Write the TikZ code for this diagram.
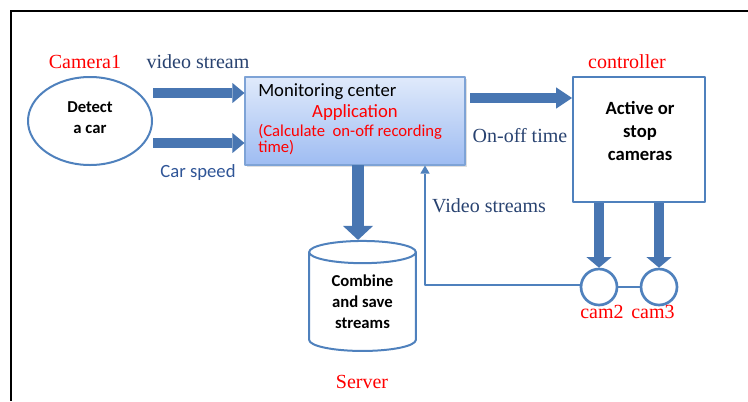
\documentclass[tikz,border=0pt]{standalone}
\usepackage{fontspec}
\setmainfont{Liberation Serif}
\newfontfamily\calibri{Carlito}
\usetikzlibrary{arrows.meta,shapes.geometric,shadows}
\definecolor{edgeblue}{RGB}{79,129,189}
\definecolor{arrowblue}{RGB}{72,118,178}
\definecolor{labelblue}{RGB}{40,66,112}
\definecolor{speedblue}{RGB}{47,85,151}
\definecolor{montop}{RGB}{224,234,251}
\definecolor{monbot}{RGB}{158,188,242}
\definecolor{monedge}{RGB}{126,163,214}

\begin{document}
\begin{tikzpicture}[x=0.75pt, y=-0.75pt, line join=round,
  redlab/.style={text=red, font=\fontsize{15}{17}\selectfont, inner sep=0pt},
  bluelab/.style={text=labelblue, font=\fontsize{15}{17}\selectfont, inner sep=0pt},
  boldtxt/.style={font=\calibri\bfseries\fontsize{12.5}{15.75}\selectfont, align=center, inner sep=0pt},
  blockarrow/.style={draw=arrowblue, line width=7.5pt, -{Triangle[length=9pt,width=15pt,line width=0pt]}},
  camline/.style={draw=edgeblue, line width=2.2pt}]
  % ========================================================
  % 0. FRAME AND CANVAS
  % ========================================================
  \useasboundingbox (0,0) rectangle (748,401);
  \draw[line width=2.2pt, black] (10,11) -- (748,11);
  \draw[line width=2.2pt, black] (11,11) -- (11,401);

  % ========================================================
  % 1. MAIN BLOCKS
  % ========================================================
  % Camera1 (detect a car)
  \node[draw=edgeblue, line width=1.5pt, ellipse, minimum width=93pt, minimum height=66pt] (cam1) at (90,121) {};
  \node[boldtxt] (cam1txt) at (90,118) {Detect\\a car};

  % Monitoring center
  \node[draw=monedge, line width=0.8pt, top color=montop, bottom color=monbot,
        minimum width=165pt, minimum height=66pt,
        drop shadow={opacity=0.25, shadow xshift=1.5pt, shadow yshift=-1.5pt}] (mon) at (355,121) {};
  \node[anchor=west, inner sep=0pt, font=\calibri\fontsize{14}{16}\selectfont] (montitle) at (258,92) {Monitoring center};
  \node[inner sep=0pt, text=red, font=\calibri\fontsize{14}{16}\selectfont] (monapp) at (355,113) {Application};
  \node[anchor=west, inner sep=0pt, text=red, font=\calibri\fontsize{12.5}{14}\selectfont] (moncalc) at (258,132) {(Calculate\ \ on-off recording};
  \node[anchor=west, inner sep=0pt, text=red, font=\calibri\fontsize{12.5}{14}\selectfont] (montime) at (258,148) {time)};

  % Controller
  \node[draw=edgeblue, line width=1.5pt, fill=white, minimum width=99pt, minimum height=93.75pt] (ctrl) at (639,139.5) {};
  \node[boldtxt, font=\calibri\bfseries\fontsize{14}{17}\selectfont] (ctrltxt) at (640,131) {Active or\\stop\\cameras};

  % Server
  \node[draw=edgeblue, line width=1.5pt, cylinder, shape border rotate=90, aspect=0.36,
        minimum width=80pt, minimum height=82.5pt, boldtxt] (srv) at (362.5,302) {Combine\\and save\\streams};

  % Cameras 2 and 3
  \node[draw=edgeblue, line width=2pt, circle, fill=white, minimum size=27pt, inner sep=0pt] (cam2) at (599,287) {};
  \node[draw=edgeblue, line width=2pt, circle, fill=white, minimum size=27pt, inner sep=0pt] (cam3) at (659,287) {};

  % ========================================================
  % 2. CONNECTORS
  % ========================================================
  \coordinate (vsin) at (153,93);
  \coordinate (spin) at (153,143);
  \coordinate (onoff) at (470,98);
  \coordinate (down) at (358,165);
  \coordinate (vsbend) at (425,285);

  \draw[blockarrow] (vsin) -- (mon.west |- vsin);
  \draw[blockarrow] (spin) -- (mon.west |- spin);
  \draw[blockarrow, -{Triangle[length=12pt,width=16pt,line width=0pt]}] (onoff) -- (ctrl.west |- onoff);
  \draw[blockarrow, line width=9pt, -{Triangle[length=10.5pt,width=22.5pt,line width=0pt]}] (down) -- (down |- srv.north);
  \draw[blockarrow, -{Triangle[length=8pt,width=19pt,line width=0pt]}] (cam2 |- ctrl.south) -- (cam2.north);
  \draw[blockarrow, -{Triangle[length=8pt,width=19pt,line width=0pt]}] (cam3 |- ctrl.south) -- (cam3.north);

  % video streams back to the monitoring center
  \draw[camline] (cam2.east) -- (cam3.west);
  \draw[camline, -{Triangle[length=6pt,width=7pt,line width=0pt]}] (cam2.west |- vsbend) -- (vsbend) -- (vsbend |- mon.south);

  % ========================================================
  % 3. LABELS
  % ========================================================
  \node[redlab] (cam1lab) at (85,62) {Camera1};
  \node[bluelab] (vslab) at (198,62) {video stream};
  \node[inner sep=0pt, text=speedblue, font=\calibri\fontsize{14}{16}\selectfont] (splab) at (198,173) {Car speed};
  \node[redlab] (ctrllab) at (627,62) {controller};
  \node[bluelab] (onofflab) at (520,136) {On-off time};
  \node[bluelab] (vstreamlab) at (489,206) {Video streams};
  \node[redlab] (srvlab) at (362,382) {Server};
  \node[redlab] (cam2lab) at (602,312) {cam2};
  \node[redlab] (cam3lab) at (653,312) {cam3};

\end{tikzpicture}
\end{document}
